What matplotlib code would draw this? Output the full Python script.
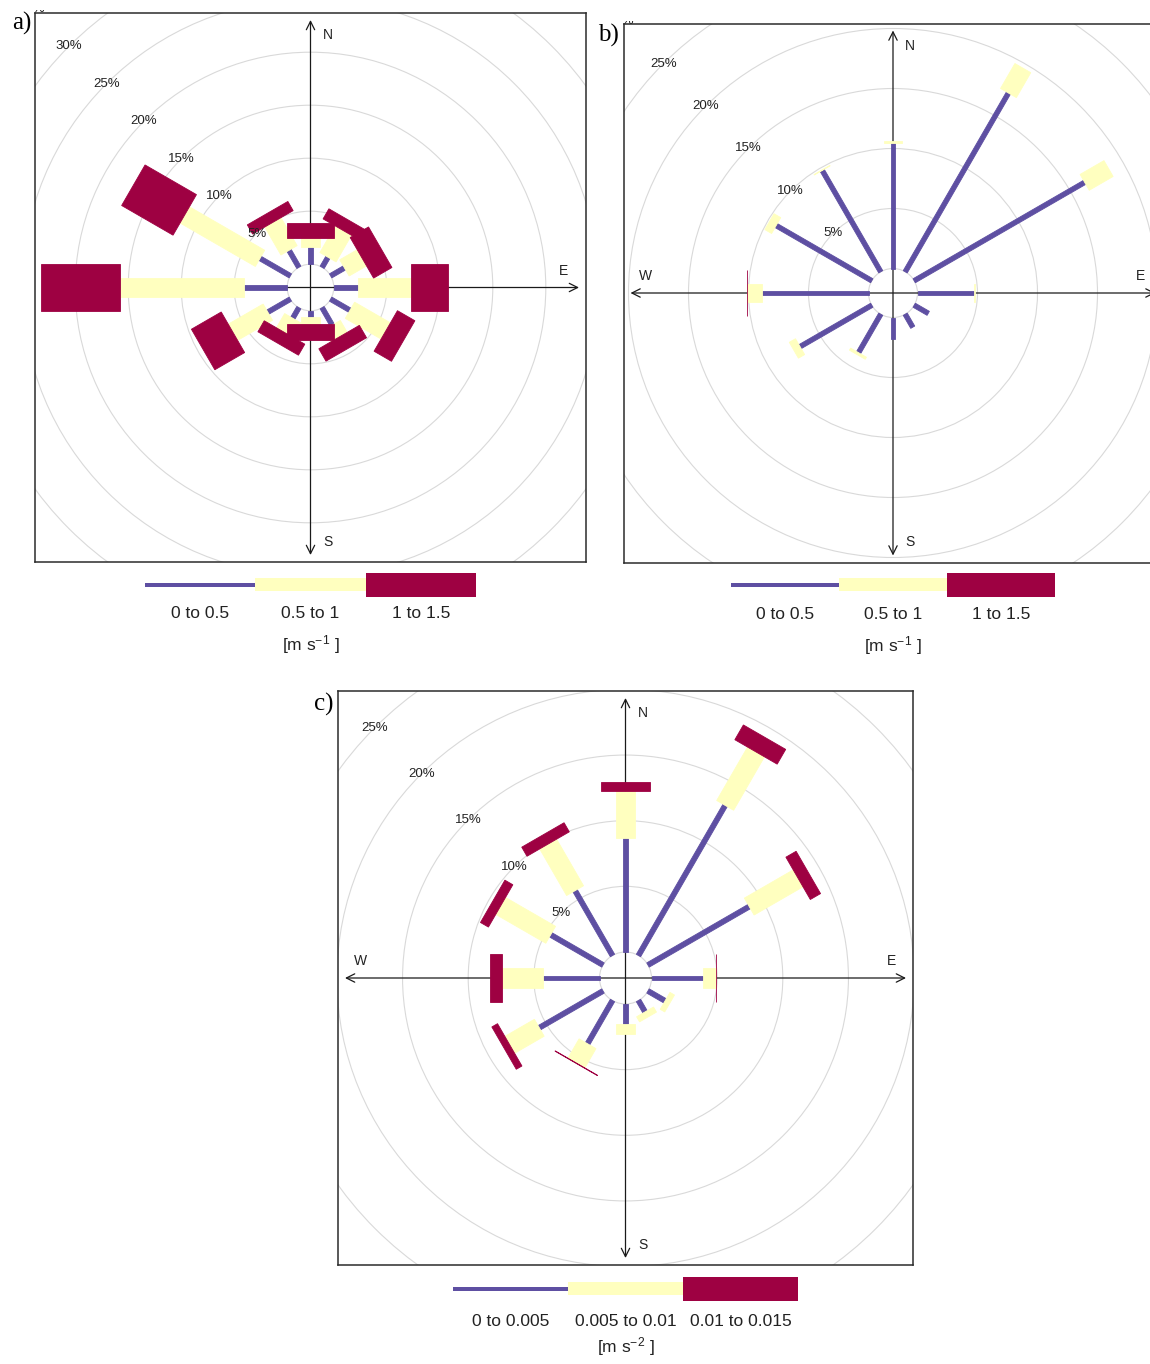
import numpy as np
import matplotlib
matplotlib.use("Agg")
import matplotlib.pyplot as plt
from matplotlib.patches import Polygon, Circle, Rectangle

plt.rcParams["font.family"] = ["Liberation Sans", "DejaVu Sans"]
plt.rcParams["mathtext.fontset"] = "custom"
plt.rcParams["mathtext.rm"] = "Liberation Sans"
plt.rcParams["mathtext.it"] = "Liberation Sans:italic"
plt.rcParams["mathtext.bf"] = "Liberation Sans:bold"

FIG_W, FIG_H = 1150, 1364

# Wind directions (degrees clockwise from north)
directions = [0, 30, 60, 90, 120, 150, 180, 210, 240, 270, 300, 330]

# a) wind speed classes: frequency (%) per direction
speed_labels = ["0 to 0.5", "0.5 to 1", "1 to 1.5"]
speed_units = r"[m s$^{-1}$ ]"
a_low = [1.6, 1.1, 1.5, 2.3, 2.1, 1.9, 0.6, 1.15, 2.45, 4.05, 3.3, 1.85]
a_mid = [0.9, 2.9, 1.9, 5.0, 3.9, 1.3, 0.65, 1.55, 3.8, 11.75, 8.2, 3.05]
a_high = [1.4, 1.1, 2.0, 3.5, 1.9, 1.35, 1.55, 1.2, 3.25, 7.4, 5.6, 1.0]

# b) wind speed classes, second site
b_low = [10.5, 17.2, 16.4, 4.7, 1.35, 1.25, 1.75, 3.7, 6.9, 8.9, 9.2, 9.75]
b_mid = [0.15, 2.4, 2.3, 0.12, 0.0, 0.0, 0.0, 0.2, 0.6, 1.2, 0.65, 0.05]
b_high = [0.0, 0.0, 0.0, 0.0, 0.0, 0.0, 0.0, 0.0, 0.0, 0.03, 0.0, 0.0]

# c) acceleration classes
accel_labels = ["0 to 0.005", "0.005 to 0.01", "0.01 to 0.015"]
accel_units = r"[m s$^{-2}$ ]"
c_low = [8.7, 13.2, 8.9, 3.9, 1.5, 1.0, 1.5, 3.8, 5.6, 4.3, 4.6, 5.7]
c_mid = [3.55, 4.7, 4.3, 1.0, 0.4, 0.45, 0.8, 1.7, 2.6, 3.1, 4.4, 4.1]
c_high = [0.7, 1.3, 0.9, 0.03, 0.0, 0.0, 0.0, 0.03, 0.5, 0.95, 0.7, 0.8]

rings_a = [5, 10, 15, 20, 25, 30, 35]
rings_bc = [5, 10, 15, 20, 25, 30]

COLOURS = ["#5E4FA2", "#FFFFBF", "#9E0142"]
PADDLE_FRAC = [0.0086, 0.034, 0.085]   # paddle widths relative to frame width
LEGEND_THICK = [4.0, 13.5, 24.0]        # legend bar heights in pixels

fig = plt.figure(figsize=(FIG_W / 100, FIG_H / 100), dpi=100, facecolor="white")

# Overlay in pixel coordinates for panel letters and colour keys
ov = fig.add_axes([0, 0, 1, 1])
ov.set_xlim(0, FIG_W)
ov.set_ylim(FIG_H, 0)
ov.axis("off")


def wind_rose(frame, px_per_pct, hole_px, bins, rings, letter, letter_xy,
              key_labels, key_units, key_offsets):
    left, top, w, h = frame
    ax = fig.add_axes([left / FIG_W, 1 - (top + h) / FIG_H, w / FIG_W, h / FIG_H])
    px = 1.0 / px_per_pct
    hx, hy = w / 2 * px, h / 2 * px
    ax.set_xlim(-hx, hx)
    ax.set_ylim(-hy, hy)
    ax.set_xticks([])
    ax.set_yticks([])
    ax.set_facecolor("white")
    for s in ax.spines.values():
        s.set_color("#2b2b2b")
        s.set_linewidth(1.1)
        s.set_zorder(20)

    hole = hole_px * px

    # percentage rings
    for p in [0] + rings:
        ax.add_patch(Circle((0, 0), hole + p, fill=False, ec="#d9d9d9",
                            lw=0.8, zorder=1))

    # compass cross with open arrow heads
    tx, ty = hx - 7 * px, hy - 7 * px
    arrow = dict(arrowstyle="<->", color="#1a1a1a", lw=0.9,
                 mutation_scale=15, shrinkA=0, shrinkB=0)
    ax.annotate("", xy=(0, ty), xytext=(0, -ty), arrowprops=arrow, zorder=2)
    ax.annotate("", xy=(tx, 0), xytext=(-tx, 0), arrowprops=arrow, zorder=2)
    cfont = dict(fontsize=10, color="#222222", ha="center", va="center", zorder=2)
    ax.text(17 * px, hy - 22 * px, "N", **cfont)
    ax.text(17 * px, -hy + 20 * px, "S", **cfont)
    ax.text(hx - 22 * px, 17 * px, "E", **cfont)
    ax.text(-hx + 22 * px, 17 * px, "W", **cfont)

    # stacked paddles
    vals = np.array(bins, dtype=float)
    ends = np.cumsum(vals, axis=0)
    starts = ends - vals
    theta = np.radians(directions)
    for k in range(3):
        hw = PADDLE_FRAC[k] * w * px / 2
        for i, th in enumerate(theta):
            if vals[k, i] <= 0:
                continue
            u = np.array([np.sin(th), np.cos(th)])
            v = np.array([np.cos(th), -np.sin(th)])
            r0, r1 = hole + starts[k, i], hole + ends[k, i]
            pts = [r0 * u + hw * v, r1 * u + hw * v, r1 * u - hw * v, r0 * u - hw * v]
            ax.add_patch(Polygon(pts, closed=True, fc=COLOURS[k], ec=COLOURS[k],
                                 lw=0.6, zorder=3 + k))

    # ring labels along the north-west diagonal, clipped just beyond the frame
    clip = Rectangle((0, 0), 1, 1 + 3.0 / h, transform=ax.transAxes)
    for p in rings:
        r = (hole + p) / np.sqrt(2)
        t = ax.text(-r, r, f"{p}%", fontsize=9.5, color="#222222",
                    ha="center", va="center", zorder=10, clip_on=True)
        t.set_clip_path(clip)

    # panel letter
    ov.text(letter_xy[0], letter_xy[1], letter, family=["Liberation Serif"],
            fontsize=18, ha="center", va="center")

    # colour key under the frame
    bar_off, lab_off, unit_off = key_offsets
    cx = left + w / 2
    seg = 0.2 * w
    x0 = cx - 1.5 * seg
    yb = top + h
    for k in range(3):
        th_ = LEGEND_THICK[k]
        ov.add_patch(Rectangle((x0 + k * seg, yb + bar_off - th_ / 2), seg, th_,
                               fc=COLOURS[k], ec="none"))
        ov.text(x0 + (k + 0.5) * seg, yb + lab_off, key_labels[k], fontsize=12.5,
                ha="center", va="center", color="#222222")
    ov.text(cx, yb + unit_off, key_units, fontsize=12.5, ha="center",
            va="center", color="#222222")
    return ax


wind_rose((35, 13, 551, 549), 10.6, 23.3, [a_low, a_mid, a_high], rings_a,
          "a)", (21.5, 23), speed_labels, speed_units, (22.5, 52, 83))
wind_rose((623.5, 23.5, 539, 539), 12.0, 24.5, [b_low, b_mid, b_high], rings_bc,
          "b)", (608.5, 35), speed_labels, speed_units, (22.0, 52, 83))
wind_rose((338, 691, 575, 574), 13.13, 26.0, [c_low, c_mid, c_high], rings_bc,
          "c)", (324, 704.5), accel_labels, accel_units, (23.5, 57, 82))

fig.savefig("out.png", dpi=100, facecolor="white")
